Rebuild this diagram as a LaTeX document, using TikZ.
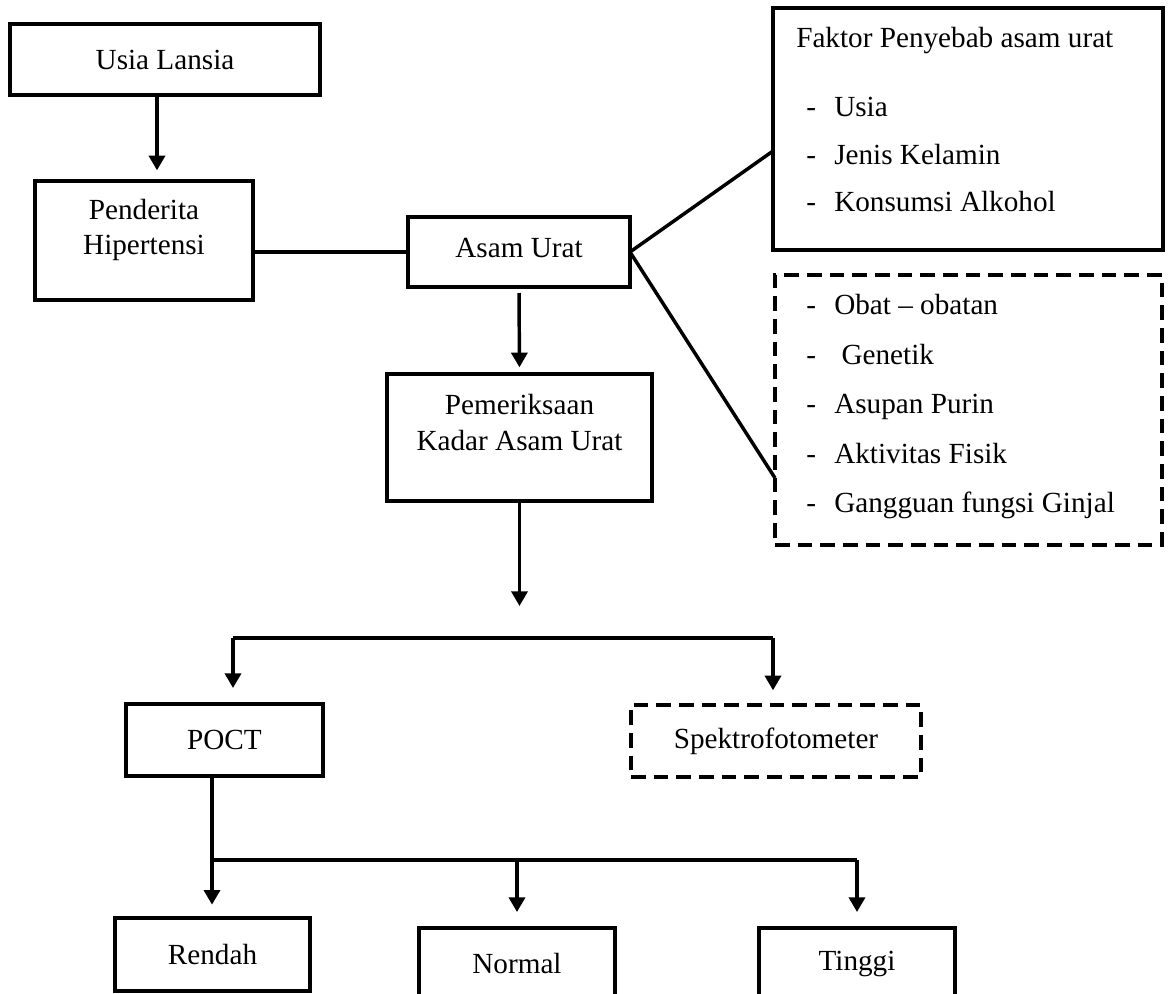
\documentclass[tikz,border=0pt]{standalone}
\usepackage{fontspec}
\setmainfont{Liberation Serif}
\usetikzlibrary{arrows.meta,calc}

\tikzset{
  every node/.style={font=\fontsize{21.9}{26.3}\selectfont},
  sz/.style 2 args={minimum width=#1*0.75pt,minimum height=#2*0.75pt},
  box/.style={draw,line width=2.6pt,inner sep=0pt,outer sep=0pt,align=center},
  dbox/.style={box,dash pattern=on 11pt off 6pt},
  txt/.style={inner sep=0pt,align=center},
  conn/.style={line width=2.6pt},
  arr/.style={conn,-{Triangle[length=11pt,width=12pt]}}
}

\begin{document}
\begin{tikzpicture}[x=0.75pt,y=0.75pt,yscale=-1,xscale=1]
    \useasboundingbox (0,0) rectangle (1168,993);
    %Shape: Rectangle [usia]
    \node[box,sz={310}{71}] (usia) at (165,59.5) {Usia Lansia};
    %Shape: Rectangle [penderita]
    \node[box,sz={218}{119}] (penderita) at (144,240.5) {};
    % Text Node
    \node[txt] (pendtxt) at (144,230) {Penderita\\Hipertensi};
    %Shape: Rectangle [asam urat]
    \node[box,sz={222}{70}] (asam) at (519,252) {};
    % Text Node
    \node[txt] (asamtxt) at (519,248) {Asam Urat};
    %Shape: Rectangle [pemeriksaan]
    \node[box,sz={265}{127}] (periksa) at (519.5,437.5) {};
    % Text Node
    \node[txt] (periksatxt) at (519.5,422.5) {Pemeriksaan\\Kadar Asam Urat};
    %Shape: Rectangle [faktor]
    \node[box,sz={390}{242}] (faktor) at (968,129) {};
    % Text Node
    \node[txt,anchor=base west] (faktortxt) at (796,47.5) {Faktor Penyebab asam urat};
    \foreach \t [count=\i from 0] in {Usia,Jenis Kelamin,Konsumsi Alkohol}{
      \node[txt,anchor=base west] (fkd\i) at (806,{116.5+47.5*\i}) {-};
      \node[txt,anchor=base west] (fk\i) at (834,{116.5+47.5*\i}) {\t};
    }
    %Shape: Dashed Rectangle [faktor lain]
    \node[dbox,sz={387}{270}] (lain) at (968.5,410) {};
    \foreach \t [count=\i from 0] in {Obat -- obatan,\ Genetik,Asupan Purin,Aktivitas Fisik,Gangguan fungsi Ginjal}{
      \node[txt,anchor=base west] (lnd\i) at (806,{314.5+49.5*\i}) {-};
      \node[txt,anchor=base west] (ln\i) at (834,{314.5+49.5*\i}) {\t};
    }
    %Shape: Rectangle [poct]
    \node[box,sz={197}{72}] (poct) at (224.5,740) {POCT};
    %Shape: Dashed Rectangle [spektro]
    \node[dbox,sz={290}{72}] (spektro) at (776,741) {Spektrofotometer};
    %Shape: Rectangle [hasil]
    \node[box,sz={195}{73}] (rendah) at (212.5,954.5) {Rendah};
    \node[box,sz={196}{72}] (normal) at (517,964) {Normal};
    \node[box,sz={196}{72}] (tinggi) at (857,964) {Tinggi};

    \coordinate (usiaout) at ($(usia.south)+(-8,0)$);
    \coordinate (pmtip) at (519.5,606);
    \coordinate (barL) at (233,638);
    \coordinate (barR) at (773,638);
    \coordinate (split) at (212,860);

    %Straight Lines
    \draw[arr,shorten >=8pt] (usiaout) -- (usiaout |- penderita.north);
    \draw[conn] (asam.west -| penderita.east) -- (asam.west);
    \draw[conn] (asam.east) -- ($(faktor.west)+(0,22)$);
    \draw[conn] (asam.east) -- ($(lain.west)+(0,68)$);
    \draw[arr,shorten <=4.5pt,shorten >=5pt] (asam.south) -- (periksa.north);
    \draw[arr] (periksa.south) -- (pmtip);
    \draw[conn] (barL) -- (barR);
    \draw[arr,shorten >=12pt] (barL) -- (barL |- poct.north);
    \draw[arr,shorten >=11pt] (barR) -- (barR |- spektro.north);
    \draw[conn] (poct.south -| split) -- (split) -- (tinggi.north |- split);
    \draw[arr,shorten >=10pt] (split) -- (split |- rendah.north);
    \draw[arr,shorten >=12pt] (normal.north |- split) -- (normal.north);
    \draw[arr,shorten >=12pt] (tinggi.north |- split) -- (tinggi.north);
\end{tikzpicture}
\end{document}
